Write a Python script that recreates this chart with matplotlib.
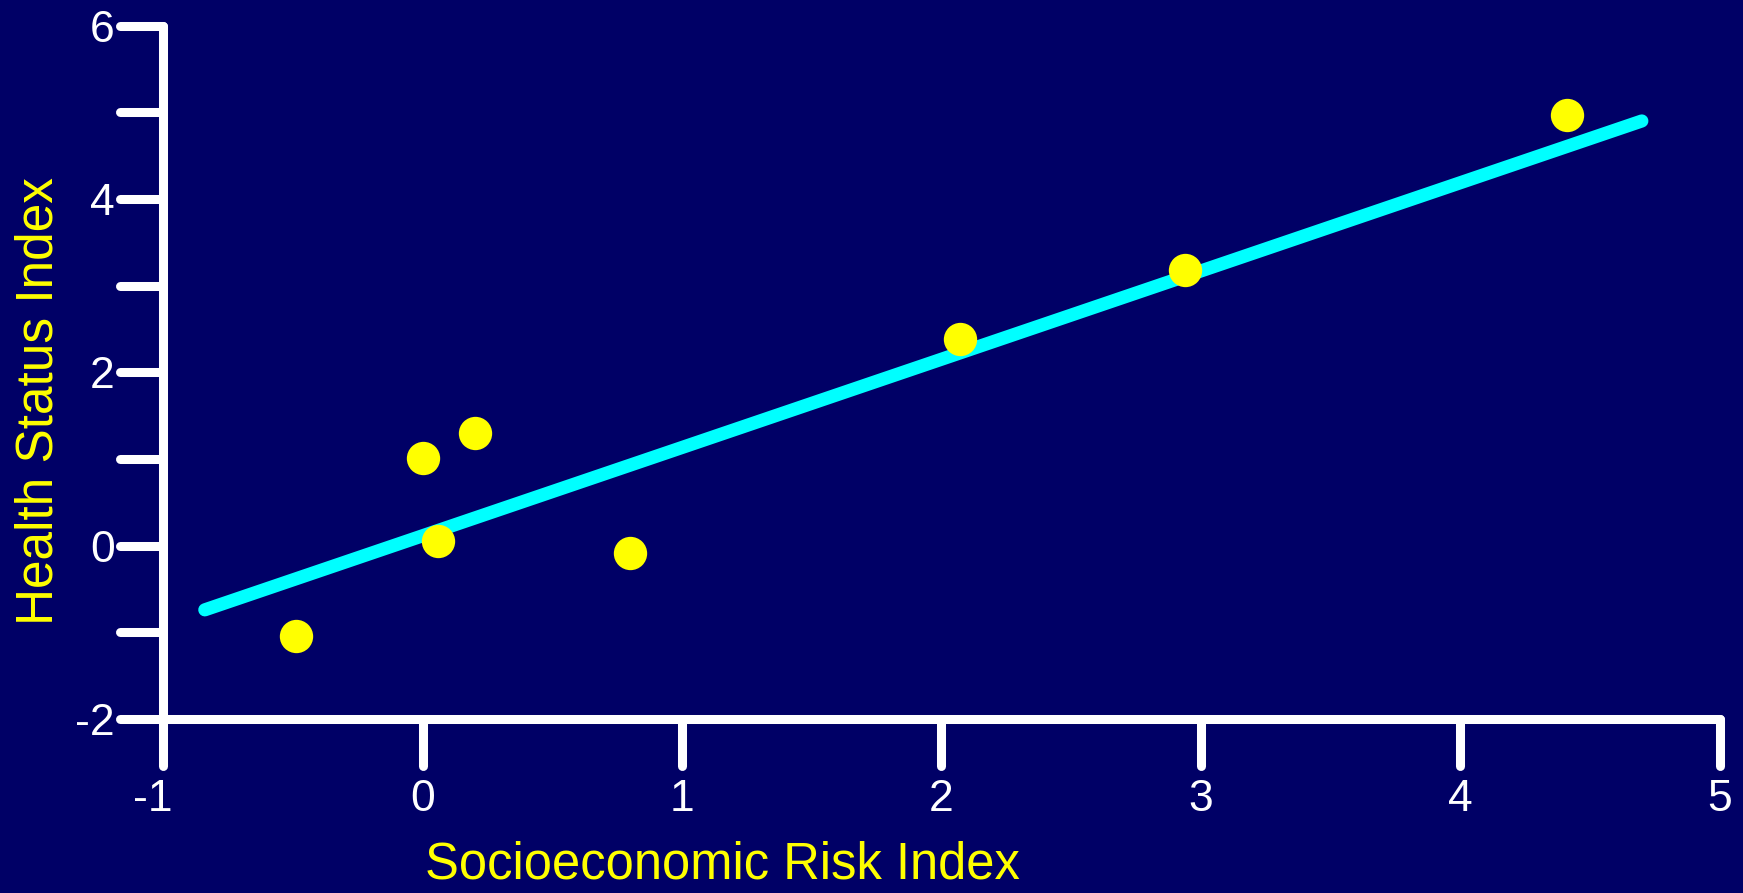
import matplotlib
matplotlib.use("Agg")
import matplotlib.pyplot as plt
from matplotlib.markers import MarkerStyle, TICKLEFT, TICKDOWN
from matplotlib.transforms import ScaledTranslation

# ---- data ----
risk_x = [-0.49, 0.00, 0.20, 0.06, 0.80, 2.07, 2.94, 4.41]
health_y = [-1.04, 1.01, 1.30, 0.05, -0.09, 2.39, 3.18, 4.97]
fit_x = [-0.84, 4.70]
fit_y = [-0.74, 4.90]
x_ticks = [-1, 0, 1, 2, 3, 4, 5]
x_tick_labels = ["-1", "0", "1", "2", "3", "4", "5"]
y_ticks = [-2, -1, 0, 1, 2, 3, 4, 5, 6]
y_tick_labels = ["-2", "", "0", "", "2", "", "4", "", "6"]
x_label = "Socioeconomic Risk Index"
y_label = "Health Status Index"

BG = "#000066"
plt.rcParams["font.family"] = ["Liberation Sans", "DejaVu Sans"]
plt.rcParams["axes.unicode_minus"] = False

fig = plt.figure(figsize=(17.43, 8.93), dpi=100, facecolor=BG)
ax = fig.add_axes([0.0937, 0.1948, 0.8929, 0.7765])
ax.set_facecolor(BG)

ax.plot(fit_x, fit_y, color="#00FFFF", lw=9.5, solid_capstyle="round", zorder=2)
ax.plot(risk_x, health_y, "o", color="#FFFF00", markersize=24, markeredgewidth=0, zorder=3)

ax.set_xlim(-1, 5)
ax.set_ylim(-2, 6)

for side in ["top", "right"]:
    ax.spines[side].set_visible(False)
for side in ["left", "bottom"]:
    ax.spines[side].set_color("white")
    ax.spines[side].set_linewidth(6.5)
    ax.spines[side].set_capstyle("round")

ax.set_xticks(x_ticks)
ax.set_xticklabels(x_tick_labels)
ax.set_yticks(y_ticks)
ax.set_yticklabels(y_tick_labels)
ax.tick_params(axis="x", direction="out", length=33.5, width=6.5, color="white",
               labelcolor="white", labelsize=32, pad=10)
ax.tick_params(axis="y", direction="out", length=31, width=6.5, color="white",
               labelcolor="white", labelsize=32, pad=4)

for t in ax.xaxis.get_major_ticks():
    t.tick1line.set_marker(MarkerStyle(TICKDOWN, capstyle="round"))
for t in ax.yaxis.get_major_ticks():
    t.tick1line.set_marker(MarkerStyle(TICKLEFT, capstyle="round"))
first = ax.xaxis.get_major_ticks()[0].label1
first.set_transform(first.get_transform() + ScaledTranslation(-0.11, 0, fig.dpi_scale_trans))

ax.set_xlabel(x_label, color="#FFFF00", fontsize=36.5)
ax.xaxis.label.set_va("center")
ax.xaxis.set_label_coords(0.359, -0.211)
ax.set_ylabel(y_label, color="#FFFF00", fontsize=37)
ax.yaxis.label.set_va("center")
ax.yaxis.set_label_coords(-0.0800, 0.459)

fig.savefig("out.png", dpi=100, facecolor=BG)
